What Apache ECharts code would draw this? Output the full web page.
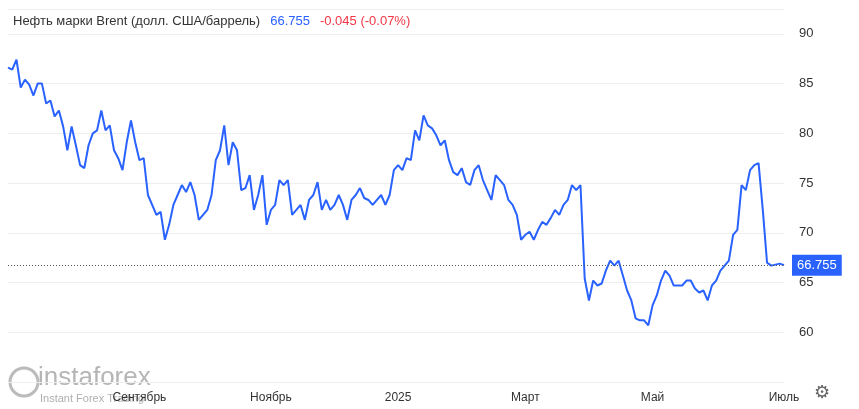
<!DOCTYPE html>
<html><head><meta charset="utf-8">
<script src="https://cdn.jsdelivr.net/npm/echarts@6/dist/echarts.min.js"></script>
<style>html,body{margin:0;padding:0;background:#fff}#c{width:859px;height:409px}</style>
</head><body><div id="c"></div>
<script>
const values = [86.6,86.4,87.4,84.6,85.4,84.9,83.8,85,85,83,83.3,81.7,82.3,80.7,78.3,80.7,78.8,76.8,76.5,78.8,80,80.3,82.3,80.3,80.8,78.3,77.5,76.3,79.1,81.3,79.1,77.3,77.5,73.8,72.8,71.8,72.1,69.3,70.8,72.8,73.8,74.8,74.1,75.1,73.8,71.3,71.8,72.3,73.8,77.3,78.3,80.8,76.8,79.1,78.3,74.3,74.5,75.8,72.3,73.8,75.8,70.8,72.3,72.8,75.3,74.8,75.3,71.8,72.3,72.8,71.3,73.3,73.8,75.1,72.3,73.3,72.3,72.8,73.8,72.8,71.3,73.3,73.8,74.5,73.5,73.3,72.8,73.3,73.8,72.8,73.8,76.3,76.8,76.3,77.5,77.3,80.3,79.3,81.8,80.8,80.5,79.8,78.8,79.3,77.3,76.1,75.8,76.5,75.1,74.8,76.3,76.8,75.3,74.3,73.3,75.8,75.3,74.8,73.3,72.8,71.8,69.3,69.8,70.1,69.3,70.3,71.1,70.8,71.5,72.3,71.8,72.8,73.3,74.8,74.3,74.8,65.4,63.2,65.2,64.7,64.9,66.2,67.2,66.7,67.2,65.7,64.2,63.2,61.4,61.2,61.2,60.7,62.7,63.7,65.2,66.2,65.7,64.7,64.7,64.7,65.2,65.2,64.4,64,64.2,63.2,64.7,65.2,66.2,66.7,67.2,69.8,70.3,74.8,74.3,76.3,76.8,77,72.3,67,66.7,66.8,66.9,66.755];
const yTicks = [60,65,70,75,80,85,90];
const monthNames = {8:'Сентябрь',10:'Ноябрь',0:'2025',2:'Март',4:'Май',6:'Июль'};
const start = Date.UTC(2024,6,2), end = Date.UTC(2025,6,2);
const cats = values.map((v,i)=>start + (end-start)*i/(values.length-1));
const labelIdx = {};
for (let i=1;i<cats.length;i++){
  const m=new Date(cats[i]).getUTCMonth(), pm=new Date(cats[i-1]).getUTCMonth();
  if(m!==pm && monthNames[m]!==undefined) labelIdx[i]=monthNames[m];
}
const chart = echarts.init(document.getElementById('c'));
chart.setOption({
  animation:false,
  title:{left:8,top:7,text:'{a|Нефть марки Brent (долл. США/баррель)}  {b|66.755}  {c|-0.045 (-0.07%)}',
    textStyle:{fontWeight:'normal',rich:{a:{fontSize:13,fontWeight:'normal',color:'#333',fontFamily:'Arial'},b:{fontSize:13,fontWeight:'normal',color:'#2962ff',fontFamily:'Arial'},c:{fontSize:13,fontWeight:'normal',color:'#f23645',fontFamily:'Arial'}}}},
  grid:{left:8,right:75,top:9,bottom:27},
  xAxis:{type:'category',data:cats,boundaryGap:false,
    axisLine:{show:false},axisTick:{show:false},splitLine:{show:false},
    axisLabel:{interval:(i)=>labelIdx[i]!==undefined,formatter:(v,i)=>labelIdx[i]||'',color:'#333',fontSize:12,margin:10}},
  yAxis:{type:'value',position:'right',min:55,max:92.5,interval:5,
    axisLine:{show:false},axisTick:{show:false},
    splitLine:{lineStyle:{color:'#eeeeee'}},
    axisLabel:{formatter:v=>yTicks.includes(v)?String(v):'',color:'#333',fontSize:13,margin:15}},
  series:[{type:'line',data:values,showSymbol:false,lineStyle:{color:'#2962ff',width:2},
    markLine:{symbol:'none',silent:true,data:[{yAxis:66.755}],lineStyle:{color:'#555',type:[1,2],width:1},
      label:{position:'end',formatter:'66.755',backgroundColor:'#2962ff',color:'#fff',padding:[4,5],fontSize:13,distance:8}}}],
  graphic:[
    {type:'text',left:38,top:365,style:{text:'instaforex',fontSize:26,fill:'rgba(120,120,120,0.55)',fontFamily:'Arial'}},
    {type:'text',left:40,top:393,style:{text:'Instant Forex Trading',fontSize:11,fill:'rgba(120,120,120,0.6)',fontFamily:'Arial'}},
    {type:'circle',shape:{cx:24,cy:382,r:14},style:{fill:'none',stroke:'rgba(120,120,120,0.5)',lineWidth:3}},
    {type:'text',left:814,top:384,style:{text:'⚙',fontSize:18,fill:'#666'}}
  ]
});
</script></body></html>
